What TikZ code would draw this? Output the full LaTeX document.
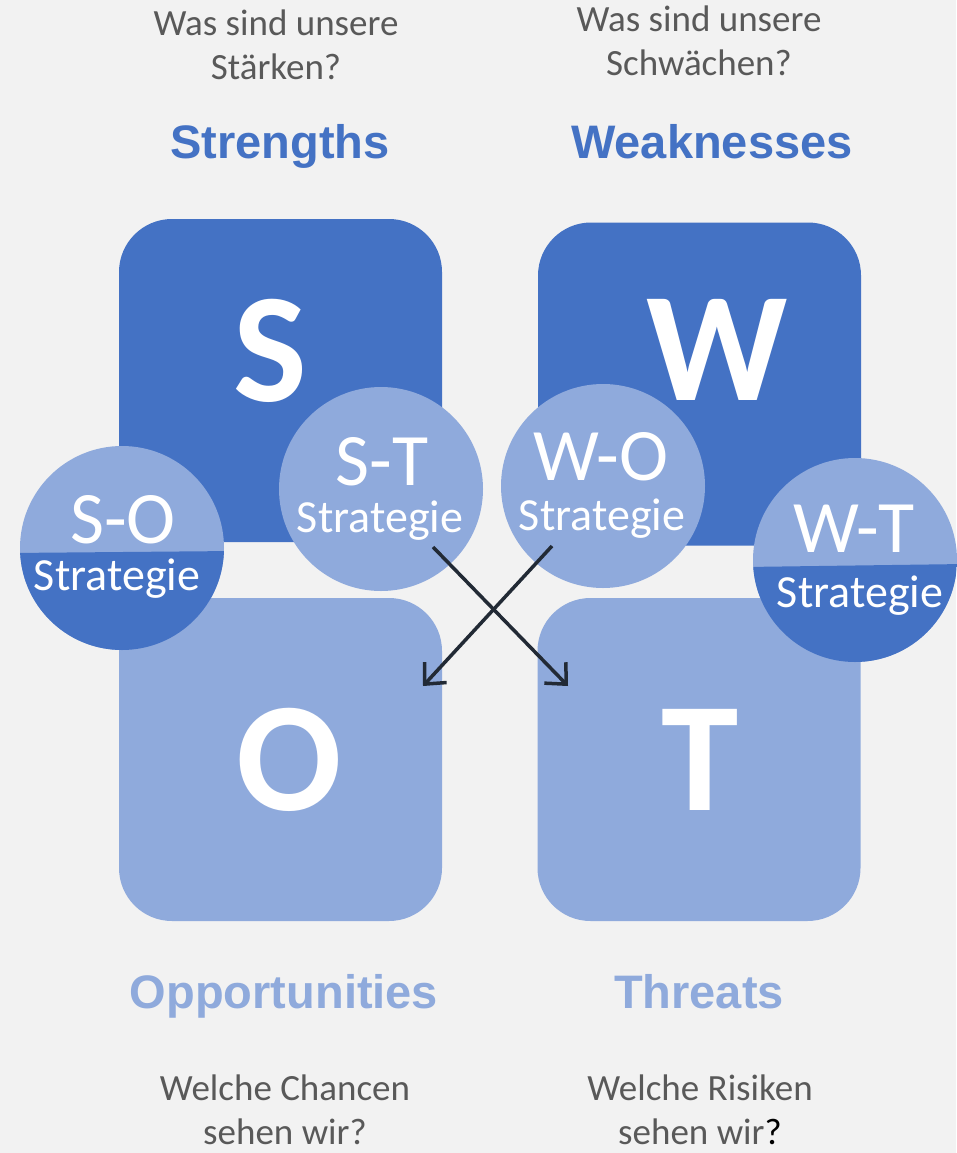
\documentclass[tikz,border=0pt]{standalone}
\usepackage{fontspec}
\setmainfont{Carlito}
\newfontfamily\arialfont{Liberation Sans}
\usetikzlibrary{arrows.meta,positioning}
\definecolor{swotdark}{HTML}{4472C4}
\definecolor{swotlight}{HTML}{8FAADC}
\definecolor{swotgray}{HTML}{595959}
\definecolor{swotbg}{HTML}{F2F2F2}
\definecolor{arrowcol}{HTML}{222A35}

\tikzset{
  field/.style={rectangle, minimum size=323pt, rounded corners=53pt, inner sep=0pt},
  letter/.style={text=white, font=\fontsize{156}{156}\selectfont\bfseries, anchor=base, inner sep=0pt},
  bubble/.style={circle, minimum size=204pt, inner sep=0pt, fill=swotlight},
  pair/.style={text=white, font=\fontsize{74}{74}\selectfont, anchor=base, inner sep=0pt},
  strat/.style={text=white, font=\fontsize{46}{46}\selectfont, anchor=base, inner sep=0pt},
  title/.style={font=\arialfont\bfseries\fontsize{47}{47}\selectfont, anchor=base, inner sep=0pt},
  question/.style={text=swotgray, font=\fontsize{37}{44}\selectfont, align=center, anchor=north, inner sep=0pt},
  pointer/.style={arrowcol, line width=3.5pt, -{Straight Barb[length=16pt,width=30pt]}}
}

\begin{document}
\begin{tikzpicture}[x=1pt,y=-1pt]
  \fill[swotbg] (0,0) rectangle (956,1153);
  \useasboundingbox (0,0) rectangle (956,1153);

  % questions and titles
  \node[question] (q-s) at (276,10) {Was sind unsere\\Stärken?};
  \node[question] (q-w) at (699,6) {Was sind unsere\\Schwächen?};
  \node[title, text=swotdark] (t-s) at (280,158) {Strengths};
  \node[title, text=swotdark] (t-w) at (712,158) {Weaknesses};
  \node[title, text=swotlight] (t-o) at (284,1008) {Opportunities};
  \node[title, text=swotlight] (t-t) at (699,1008) {Threats};
  \node[question] (q-o) at (285,1075) {Welche Chancen\\sehen wir?};
  \node[question] (q-t) at (700,1075) {Welche Risiken\\sehen wir\textcolor{black}{?}};

  % the four fields
  \node[field, fill=swotdark] (s) at (280.5,380.5) {};
  \node[field, fill=swotdark] (w) at (699.5,384) {};
  \node[field, fill=swotlight] (o) at (280.5,759.5) {};
  \node[field, fill=swotlight] (t) at (699,759.5) {};
  \node[letter] (s-letter) at (270,401) {S};
  \node[letter] (w-letter) at (717,400) {W};
  \node[letter] (o-letter) at (289,810) {O};
  \node[letter] (t-letter) at (700,810) {T};

  % strategy bubbles
  \node[bubble] (so) at (122,548) {};
  \node[bubble] (st) at (381,489) {};
  \node[bubble] (wo) at (603,486) {};
  \node[bubble] (wt) at (855,560) {};
  \begin{scope}
    \clip (so.center) circle (102);
    \fill[swotdark] (10,553) -- (235,551) -- (235,660) -- (10,660) -- cycle;
  \end{scope}
  \begin{scope}
    \clip (wt.center) circle (102);
    \fill[swotdark] (745,567) -- (965,564) -- (965,670) -- (745,670) -- cycle;
  \end{scope}

  \node[pair] (so-pair) at (123,543) {S-O};
  \node[strat] (so-strat) at (117,590) {Strategie};
  \node[pair] (st-pair) at (382,485) {S-T};
  \node[strat] (st-strat) at (380,532) {Strategie};
  \node[pair] (wo-pair) at (601,480) {W-O};
  \node[strat] (wo-strat) at (602,530) {Strategie};
  \node[pair] (wt-pair) at (854,552) {W-T};
  \node[strat] (wt-strat) at (860,607) {Strategie};

  % crossing arrows
  \coordinate (st-tail) at (433,547);
  \coordinate (t-head) at (568,686);
  \coordinate (wo-tail) at (552,546);
  \coordinate (o-head) at (423,686);
  \draw[pointer] (st-tail) -- (t-head);
  \draw[pointer] (wo-tail) -- (o-head);
\end{tikzpicture}
\end{document}
